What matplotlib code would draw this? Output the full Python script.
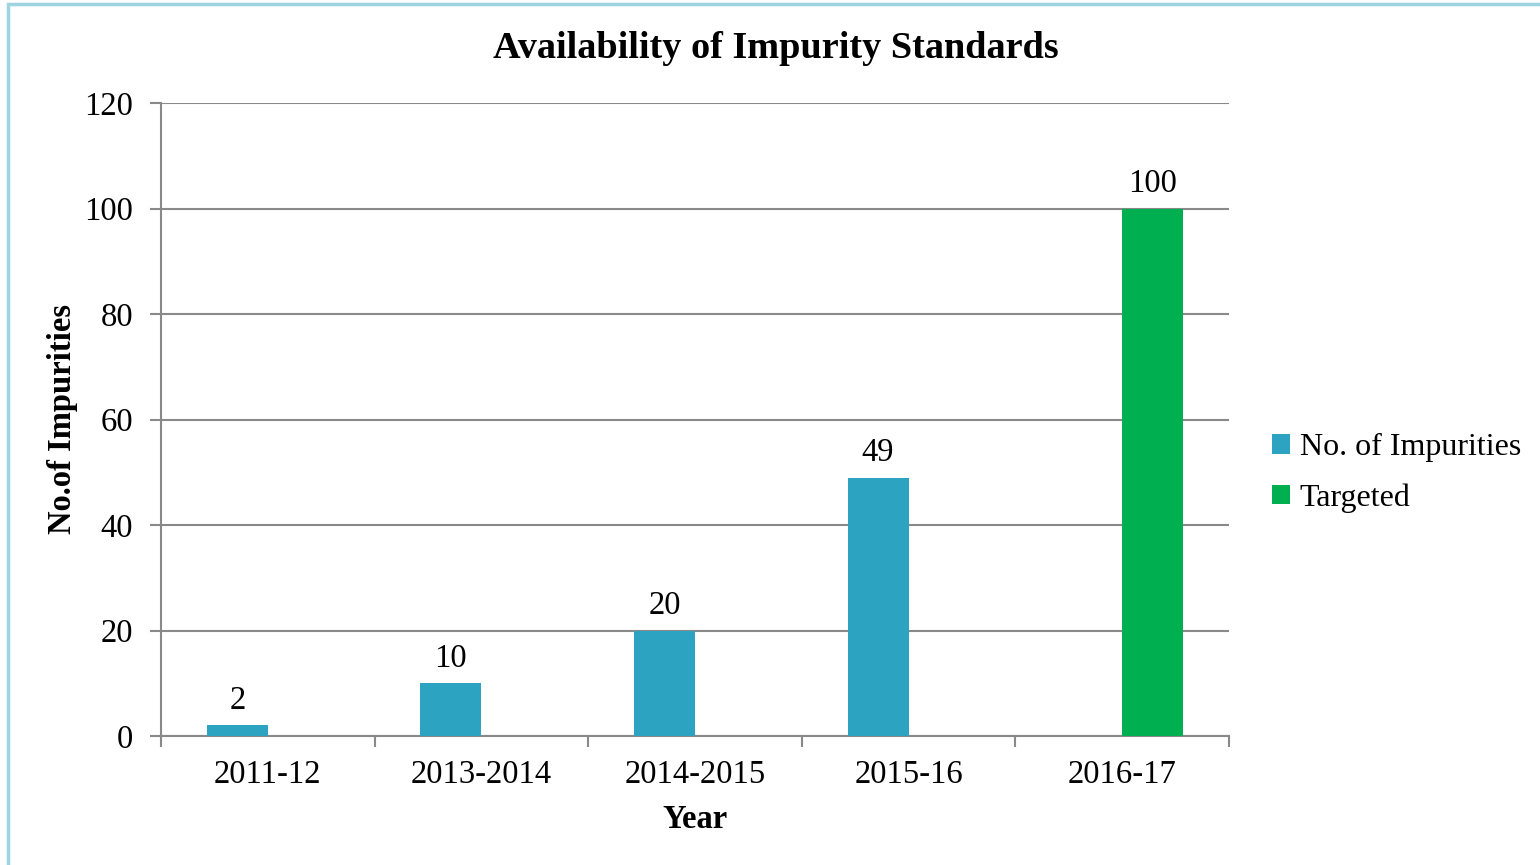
import matplotlib
matplotlib.use("Agg")
import matplotlib.pyplot as plt
import numpy as np
from matplotlib.patches import Rectangle

categories = ["2011-12", "2013-2014", "2014-2015", "2015-16", "2016-17"]
impurities = [2, 10, 20, 49, None]
targeted = [None, None, None, None, 100]
yticks = [0, 20, 40, 60, 80, 100, 120]

plt.rcParams['font.family'] = ['Liberation Serif', 'DejaVu Serif']

fig = plt.figure(figsize=(15.4, 8.65), dpi=100)
ax = fig.add_axes([161/1540, 1-736/865, (1229-161)/1540, (736-103)/865])

c_imp = "#2CA3C1"
c_tar = "#00B050"
fs = 23.5
w = 0.286
x = np.arange(len(categories))

imp_vals = [v if v is not None else 0 for v in impurities]
tar_vals = [v if v is not None else 0 for v in targeted]
b1 = ax.bar(x - w/2, imp_vals, width=w, color=c_imp, label="No. of Impurities", zorder=3)
b2 = ax.bar(x + w/2, tar_vals, width=w, color=c_tar, label="Targeted", zorder=3)

for i, v in enumerate(impurities):
    if v is not None:
        ax.annotate(str(v), (x[i] - w/2, v), xytext=(0, 7), textcoords="offset points",
                    ha="center", va="bottom", fontsize=fs)
for i, v in enumerate(targeted):
    if v is not None:
        ax.annotate(str(v), (x[i] + w/2, v), xytext=(0, 7), textcoords="offset points",
                    ha="center", va="bottom", fontsize=fs)

ax.set_xlim(-0.5, len(categories) - 0.5)
ax.set_ylim(0, 120)
ax.set_yticks(yticks)
ax.set_yticklabels([str(t) for t in yticks], fontsize=fs)
ax.set_xticks(x)
ax.set_xticklabels(categories, fontsize=fs)
ax.tick_params(axis='x', length=0, pad=17)
ax.tick_params(axis='y', length=8, width=1.5, color="#898989", pad=12)
ax.set_xticks(np.arange(-0.5, len(categories)), minor=True)
ax.tick_params(axis='x', which='minor', length=8, width=1.5, color="#898989")

ax.grid(axis='y', color="#898989", linewidth=1.5, zorder=0)
for s in ['top', 'right']:
    ax.spines[s].set_visible(False)
ax.spines['left'].set_color("#898989")
ax.spines['left'].set_linewidth(1.5)
ax.spines['bottom'].set_color("#898989")
ax.spines['bottom'].set_linewidth(1.5)

ax.set_xlabel("Year", fontsize=fs, fontweight='bold', labelpad=10)
ax.set_ylabel("No.of Impurities", fontsize=fs, fontweight='bold', va='center')
ax.yaxis.set_label_coords((62 - 161) / 1068, 0.5)
fig.text(776/1540, 1-48/865, "Availability of Impurity Standards", fontsize=27.5,
         fontweight='bold', ha='center', va='center')

leg = fig.legend(handles=[b1, b2], loc='center left', bbox_to_anchor=(1250/1540, 1-473/865),
                 frameon=False, fontsize=23, handlelength=0.55, handleheight=0.55,
                 handletextpad=0.3, labelspacing=0.65, borderpad=0.2)

border = Rectangle((8/1540, -0.1), 1.2, 1 - 4/865 + 0.1, transform=fig.transFigure,
                   fill=False, edgecolor="#9DD4DF", linewidth=2.5)
fig.patches.append(border)

fig.savefig("out.png", dpi=100)
